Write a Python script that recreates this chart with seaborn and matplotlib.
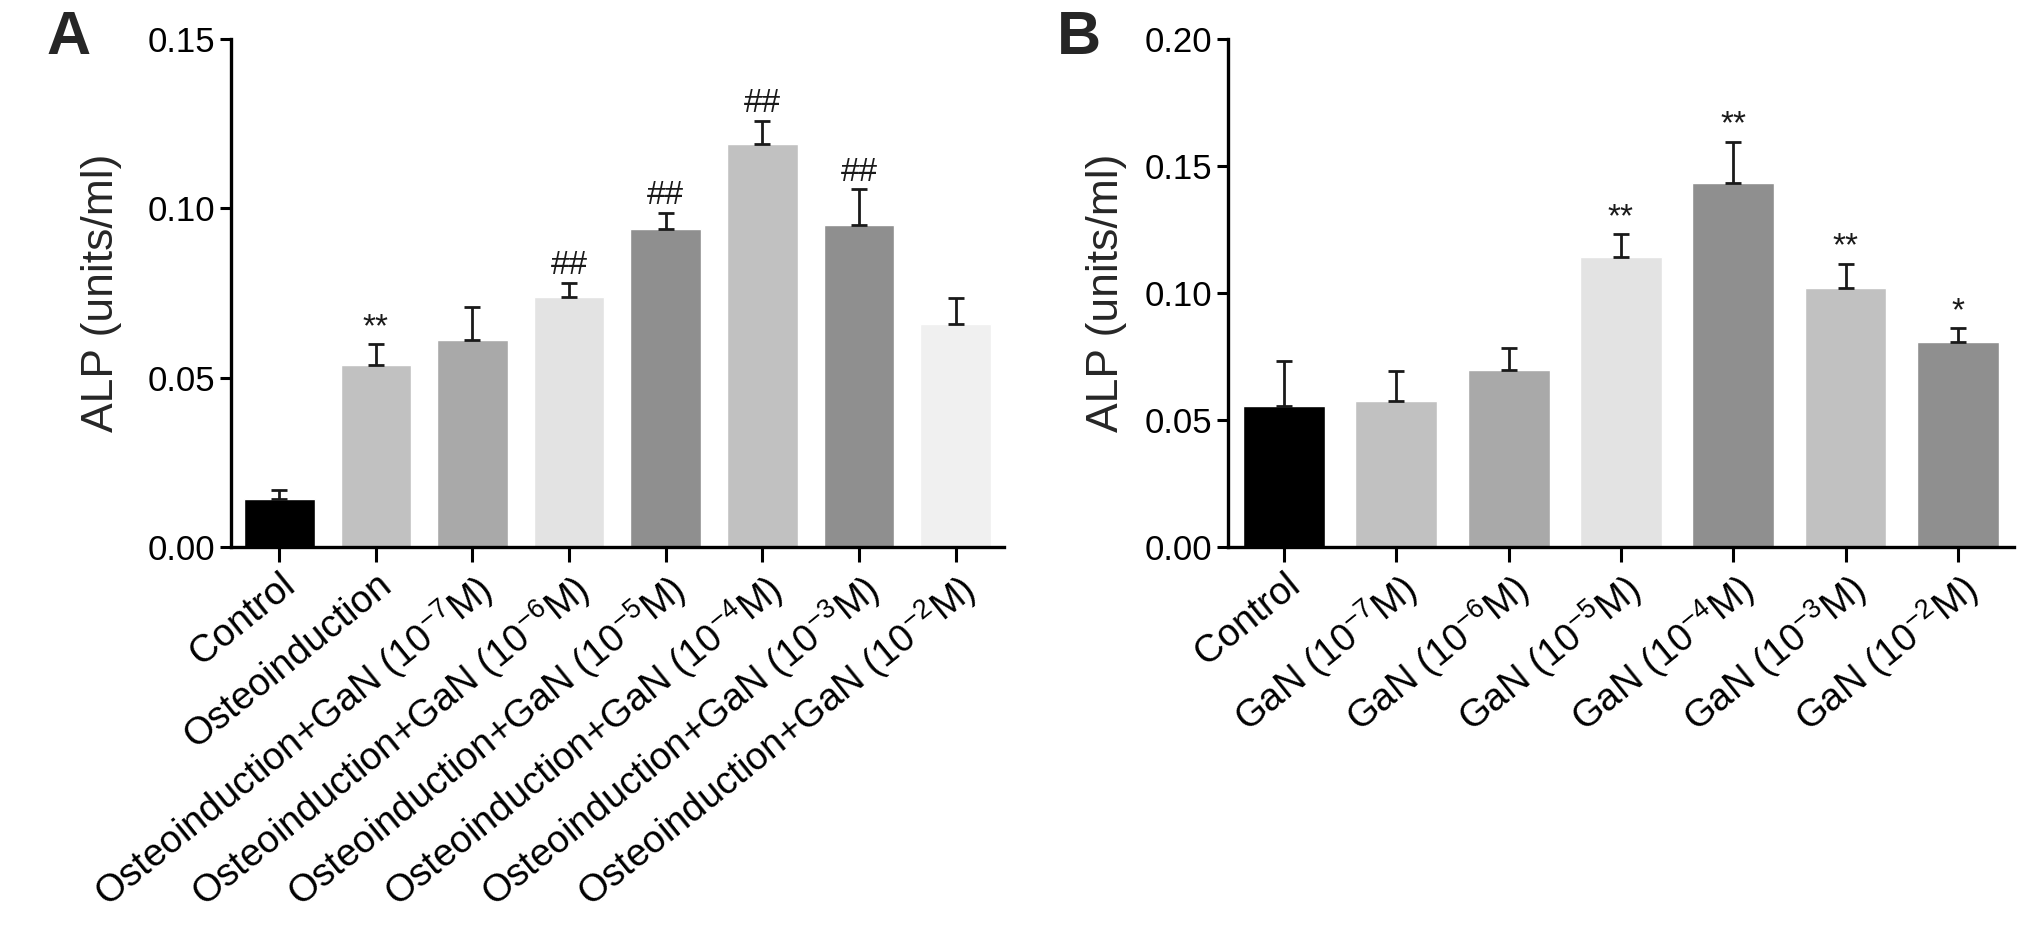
import numpy as np
import pandas as pd
import matplotlib
matplotlib.use("Agg")
from matplotlib import pyplot as plt
import seaborn as sns

# panel A
groups_a = ["Control", "Osteoinduction",
            r"Osteoinduction+GaN (10$^{-7}$M)", r"Osteoinduction+GaN (10$^{-6}$M)",
            r"Osteoinduction+GaN (10$^{-5}$M)", r"Osteoinduction+GaN (10$^{-4}$M)",
            r"Osteoinduction+GaN (10$^{-3}$M)", r"Osteoinduction+GaN (10$^{-2}$M)"]
alp_a = [0.0142, 0.0537, 0.0611, 0.0737, 0.0938, 0.1191, 0.0951, 0.0659]
sem_a = [0.0025, 0.0061, 0.0098, 0.0044, 0.0049, 0.0067, 0.0105, 0.0075]
marks_a = ["", "**", "", "##", "##", "##", "##", ""]
colors_a = ["#000000", "#c1c1c1", "#a9a9a9", "#e3e3e3", "#8f8f8f", "#c1c1c1", "#8f8f8f", "#f0f0f0"]

# panel B
groups_b = ["Control", r"GaN (10$^{-7}$M)", r"GaN (10$^{-6}$M)", r"GaN (10$^{-5}$M)",
            r"GaN (10$^{-4}$M)", r"GaN (10$^{-3}$M)", r"GaN (10$^{-2}$M)"]
alp_b = [0.0556, 0.0573, 0.0697, 0.1143, 0.1434, 0.1018, 0.0809]
sem_b = [0.0178, 0.0120, 0.0085, 0.0088, 0.0161, 0.0096, 0.0052]
marks_b = ["", "", "", "**", "**", "**", "*"]
colors_b = ["#000000", "#c1c1c1", "#a9a9a9", "#e3e3e3", "#8f8f8f", "#c1c1c1", "#8f8f8f"]

sns.set_style("ticks")
plt.rcParams["font.family"] = ["Liberation Sans", "DejaVu Sans"]
plt.rcParams["mathtext.fontset"] = "custom"
plt.rcParams["mathtext.rm"] = "Liberation Sans"
plt.rcParams["mathtext.it"] = "Liberation Sans:italic"
plt.rcParams["mathtext.default"] = "regular"

fig = plt.figure(figsize=(20.31, 9.33), dpi=100)
ax_a = fig.add_axes([0.1137, 0.4137, 0.3806, 0.5445])
ax_b = fig.add_axes([0.6046, 0.4137, 0.3870, 0.5445])


def panel(ax, groups, vals, errs, marks, colors, ymax, letter, lab_x):
    df = pd.DataFrame({"group": groups, "alp": vals})
    sns.barplot(data=df, x="group", y="alp", hue="group", palette=colors,
                legend=False, width=0.73, ax=ax, saturation=1, errorbar=None)
    n = len(groups)
    x = np.arange(n)
    ax.errorbar(x, vals, yerr=[np.zeros(n), errs], fmt="none", ecolor="#1a1a1a",
                elinewidth=2.0, capsize=6, capthick=2.0, zorder=3)
    for xi, v, e, m in zip(x, vals, errs, marks):
        if m:
            ax.text(xi, v + e + ymax * 0.003, m, ha="center", va="bottom",
                    fontsize=24, color="#1a1a1a")
    ax.set_xlim(-0.5, n - 0.5)
    ax.set_ylim(0, ymax)
    ax.set_yticks(np.arange(0, ymax + 1e-9, 0.05))
    ax.set_yticklabels([f"{t:.2f}" for t in np.arange(0, ymax + 1e-9, 0.05)])
    ax.set_xlabel("")
    ax.set_ylabel("ALP (units/ml)", fontsize=32)
    ax.yaxis.set_label_coords(lab_x, 0.5)
    for s in ["top", "right"]:
        ax.spines[s].set_visible(False)
    for s in ["left", "bottom"]:
        ax.spines[s].set_linewidth(2.4)
        ax.spines[s].set_color("black")
    ax.tick_params(axis="y", labelsize=25, width=2.2, length=8, pad=3, colors="black")
    ax.tick_params(axis="x", labelsize=27.5, width=2.2, length=11, pad=3, colors="black")
    plt.setp(ax.get_xticklabels(), rotation=39, ha="right", rotation_mode="anchor")
    ax.text(-0.21 if letter == "A" else -0.19, 1.0, letter, transform=ax.transAxes,
            fontsize=44, fontweight="bold", ha="center", va="center")


panel(ax_a, groups_a, alp_a, sem_a, marks_a, colors_a, 0.15, "A", -0.141)
panel(ax_b, groups_b, alp_b, sem_b, marks_b, colors_b, 0.20, "B", -0.128)

fig.savefig("out.png", dpi=100, facecolor="white")
